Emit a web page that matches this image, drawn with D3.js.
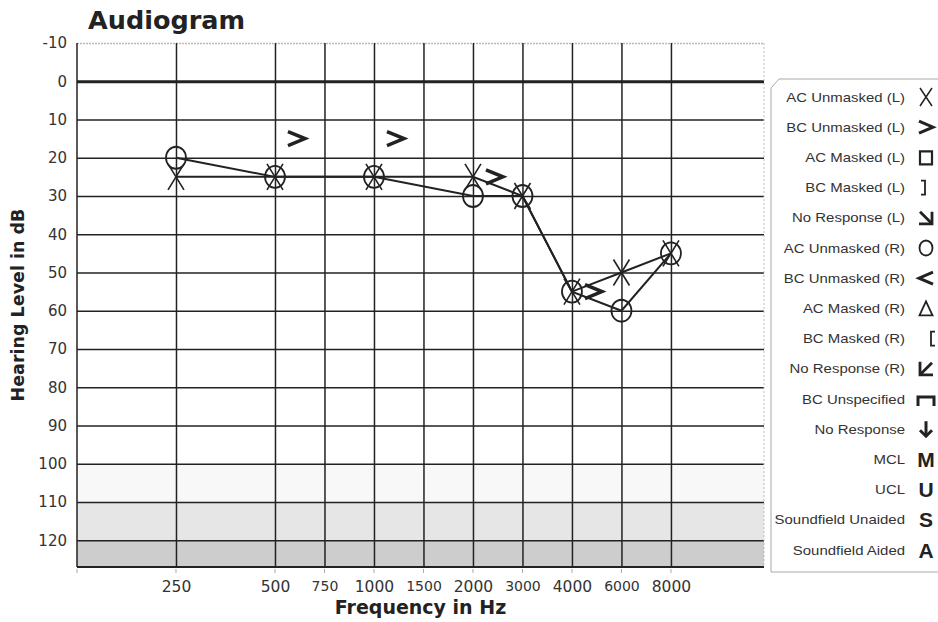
<!DOCTYPE html>
<html>
<head>
<meta charset="utf-8">
<script src="https://cdn.jsdelivr.net/npm/d3@7"></script>
<style>
  body { margin: 0; background: #fff; }
  svg { display: block; }
</style>
</head>
<body>
<svg id="chart" width="938" height="622"></svg>
<script>
// audiogram values
const freqs = [250, 500, 750, 1000, 1500, 2000, 3000, 4000, 6000, 8000];
const dbTicks = [-10, 0, 10, 20, 30, 40, 50, 60, 70, 80, 90, 100, 110, 120];

const acFreq = [250, 500, 1000, 2000, 3000, 4000, 6000, 8000];
const acLeftDb = [25, 25, 25, 25, 30, 55, 50, 45];
const acRightDb = [20, 25, 25, 30, 30, 55, 60, 45];

const bcLeftFreq = [500, 1000, 2000, 4000];
const bcLeftDb = [15, 15, 25, 55];

const shadeFrom = [100, 110, 120];
const shadeTo = [110, 120, 127];

const legendLabels = ["AC Unmasked (L)", "BC Unmasked (L)", "AC Masked (L)", "BC Masked (L)",
  "No Response (L)", "AC Unmasked (R)", "BC Unmasked (R)", "AC Masked (R)", "BC Masked (R)",
  "No Response (R)", "BC Unspecified", "No Response", "MCL", "UCL", "Soundfield Unaided", "Soundfield Aided"];
const legendKeys = ["X", ">", "sq", "]", "nrL", "O", "<", "tri", "[", "nrR", "bcu", "down", "M", "U", "S", "A"];

const svg = d3.select("#chart");
const pLeft = 77, pRight = 764, pTop = 43, pBottom = 567;
const ink = "#222";

// half-octave position: 250 -> 0, 500 -> 1, 750 -> 1.5 ...
const oct = f => Math.round(Math.log2(f / 250) * 2) / 2;
const x = d3.scaleLinear().domain([-1, 5.94]).range([pLeft, pRight]);
const y = d3.scaleLinear().domain([-10, 127]).range([pTop, pBottom]);

// shaded bottom bands (scan stipple)
const shadeFill = ["#f8f8f8", "#e6e6e6", "#cdcdcd"];
svg.append("g").selectAll("rect")
  .data(shadeFrom)
  .join("rect")
  .attr("x", pLeft).attr("width", pRight - pLeft)
  .attr("y", d => y(d)).attr("height", (d, i) => y(shadeTo[i]) - y(d))
  .attr("fill", (d, i) => shadeFill[i]);

// horizontal grid + y labels
const yAxis = svg.append("g")
  .attr("transform", `translate(${pLeft},0)`)
  .call(d3.axisLeft(y).tickValues(dbTicks).tickSize(-(pRight - pLeft)).tickPadding(10)
    .tickFormat(d => String(d)));
yAxis.select(".domain").remove();
yAxis.selectAll(".tick line")
  .attr("stroke", d => d === -10 ? "#bbb" : ink)
  .attr("stroke-dasharray", d => d === -10 ? "2,1" : null)
  .attr("stroke-width", d => d === 0 ? 3 : 1.5);
yAxis.selectAll(".tick text")
  .attr("fill", "#333")
  .style("font-family", "DejaVu Sans")
  .style("font-size", "15px");

// vertical grid + x labels
const xAxis = svg.append("g")
  .attr("transform", `translate(0,${pTop})`)
  .call(d3.axisBottom(x).tickValues(freqs.map(oct)).tickSize(pBottom - pTop)
    .tickFormat((d, i) => freqs[i]).tickPadding(14));
xAxis.select(".domain").remove();
xAxis.selectAll(".tick line").attr("stroke", ink).attr("stroke-width", 1.5);
xAxis.selectAll(".tick text")
  .attr("fill", "#333")
  .style("font-family", "DejaVu Sans")
  .style("font-size", (d, i) => Number.isInteger(oct(freqs[i])) ? "15.5px" : "14px");

// small marks under the bottom border
svg.append("g").selectAll("line")
  .data([-1].concat(freqs.map(oct)))
  .join("line")
  .attr("x1", d => x(d)).attr("x2", d => x(d))
  .attr("y1", pBottom + 2).attr("y2", pBottom + 6)
  .attr("stroke", "#aaa").attr("stroke-width", 1);

// borders
svg.append("line").attr("x1", pLeft).attr("x2", pLeft).attr("y1", pTop).attr("y2", pBottom)
  .attr("stroke", ink).attr("stroke-width", 1.5);
svg.append("line").attr("x1", pLeft).attr("x2", pRight).attr("y1", pBottom).attr("y2", pBottom)
  .attr("stroke", ink).attr("stroke-width", 2);
svg.append("line").attr("x1", pRight).attr("x2", pRight).attr("y1", pTop).attr("y2", pBottom)
  .attr("stroke", "#bbb").attr("stroke-dasharray", "2,2");

// threshold lines
const line = d3.line().x(d => x(oct(d[0]))).y(d => y(d[1]));
[acLeftDb, acRightDb].forEach(series => {
  svg.append("path")
    .datum(acFreq.map((f, i) => [f, series[i]]))
    .attr("d", line)
    .attr("fill", "none").attr("stroke", ink).attr("stroke-width", 2);
});

// symbols
const marks = svg.append("g");
marks.selectAll(".acR")
  .data(acFreq)
  .join("ellipse")
  .attr("class", "acR")
  .attr("cx", d => x(oct(d))).attr("cy", (d, i) => y(acRightDb[i]))
  .attr("rx", 10).attr("ry", 11)
  .attr("fill", "none").attr("stroke", ink).attr("stroke-width", 1.8);

marks.selectAll(".acL")
  .data(acFreq)
  .join("path")
  .attr("class", "acL")
  .attr("transform", (d, i) => `translate(${x(oct(d))},${y(acLeftDb[i])})`)
  .attr("d", "M-8,-13L8,13M8,-13L-8,13")
  .attr("fill", "none").attr("stroke", ink).attr("stroke-width", 1.6);

marks.selectAll(".bcL")
  .data(bcLeftFreq)
  .join("path")
  .attr("class", "bcL")
  .attr("transform", (d, i) => `translate(${x(oct(d)) + 22},${y(bcLeftDb[i])})`)
  .attr("d", "M-9,-7L8,0L-9,7")
  .attr("fill", "none").attr("stroke", ink).attr("stroke-width", 3.5)
  .attr("stroke-linejoin", "miter");

// titles
svg.append("text")
  .attr("x", 88).attr("y", 29)
  .style("font-family", "DejaVu Sans").style("font-weight", "bold").style("font-size", "25.5px")
  .attr("fill", "#222")
  .text("Audiogram");

svg.append("text")
  .attr("text-anchor", "middle")
  .attr("transform", `translate(24,${(pTop + pBottom) / 2}) rotate(-90)`)
  .style("font-family", "DejaVu Sans").style("font-weight", "bold").style("font-size", "17.5px")
  .attr("fill", "#222")
  .text("Hearing Level in dB");

svg.append("text")
  .attr("x", (pLeft + pRight) / 2).attr("y", 614)
  .attr("text-anchor", "middle")
  .style("font-family", "DejaVu Sans").style("font-weight", "bold").style("font-size", "19px")
  .attr("fill", "#222")
  .text("Frequency in Hz");

// legend box
const lg = svg.append("g");
lg.append("path")
  .attr("d", "M945,79L779,79L771,88L771,572L945,572")
  .attr("fill", "#fff").attr("stroke", "#aaa").attr("stroke-width", 1);

const rowY = d3.scaleLinear().domain([0, 15]).range([97, 550]);
const rows = lg.selectAll(".row")
  .data(legendLabels)
  .join("g")
  .attr("class", "row")
  .attr("transform", (d, i) => `translate(0,${rowY(i)})`);

rows.append("text")
  .attr("transform", "translate(905,0) scale(1.15,1)")
  .attr("text-anchor", "end").attr("dy", "0.35em")
  .style("font-family", "Liberation Sans").style("font-size", "13px")
  .attr("fill", "#333")
  .text(d => d);

const sx = 926;
rows.each(function (d, i) {
  const g = d3.select(this).append("g").attr("transform", `translate(${sx},0)`);
  const k = legendKeys[i];
  const stroke = (p, w) => g.append("path").attr("d", p).attr("fill", "none")
    .attr("stroke", ink).attr("stroke-width", w);
  if (k === "X") stroke("M-6,-9L6,9M6,-9L-6,9", 1.5);
  else if (k === ">") stroke("M-7,-6L7,0L-7,6", 3);
  else if (k === "<") stroke("M7,-6L-7,0L7,6", 3);
  else if (k === "sq") stroke("M-6,-6H6V7H-6Z", 2.2);
  else if (k === "]") stroke("M-5,-7H-1V7H-5", 1.8);
  else if (k === "[") stroke("M9,-7H5V7H9", 1.8);
  else if (k === "O") g.append("ellipse").attr("rx", 6.5).attr("ry", 7.5)
    .attr("fill", "none").attr("stroke", ink).attr("stroke-width", 1.8);
  else if (k === "tri") stroke("M0,-7L6.5,7H-6.5Z", 1.8);
  else if (k === "nrL") { stroke("M-6,-6L5,5", 2.8); stroke("M-7,6H6V-6", 2.8); }
  else if (k === "nrR") { stroke("M6,-6L-5,5", 2.8); stroke("M-6,-7V6H7", 2.8); }
  else if (k === "bcu") stroke("M-8,7V-2H8V7", 3);
  else if (k === "down") { stroke("M0,-8V7", 3); stroke("M-6,1L0,7L6,1", 3); }
  else g.append("text").attr("text-anchor", "middle").attr("dy", "0.36em")
    .style("font-family", "Liberation Sans").style("font-weight", "bold").style("font-size", "21px")
    .attr("fill", ink).text(k);
});
</script>
</body>
</html>
